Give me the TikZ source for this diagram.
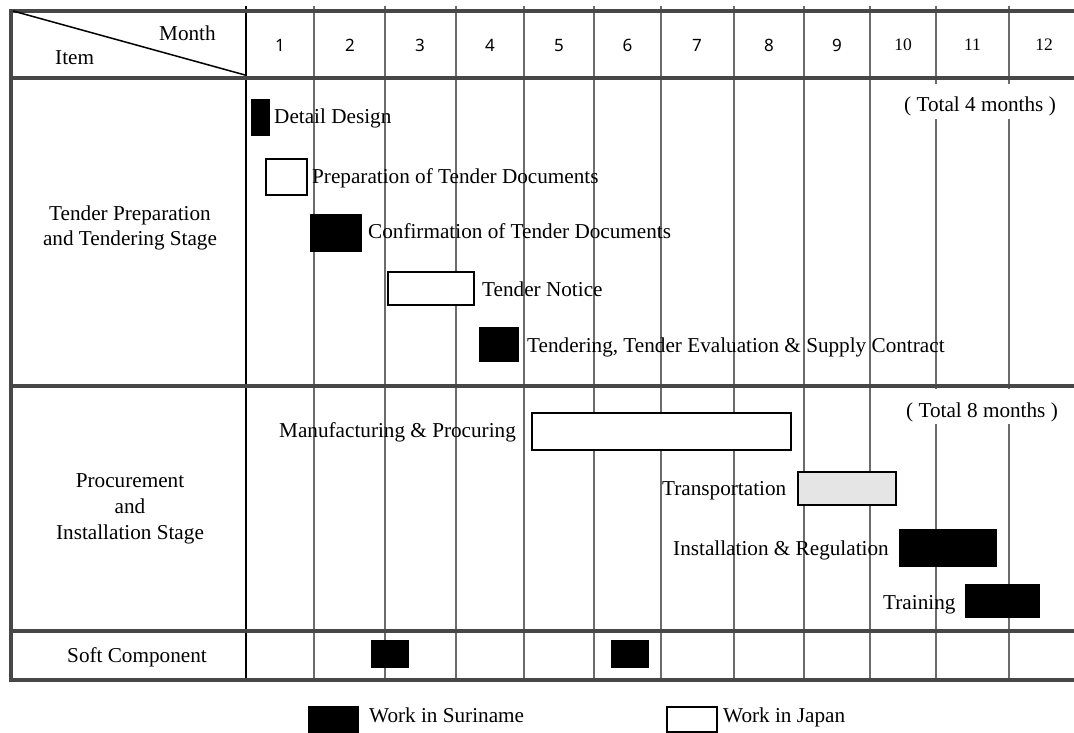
\documentclass[tikz,border=0pt]{standalone}
\usepackage{fontspec}
\setmainfont{Liberation Serif}
\newfontfamily\digitfont{Noto Sans}
\begin{document}
\begin{tikzpicture}[x=1pt,y=-1pt,
  txt/.style={inner sep=0pt, font=\fontsize{21.2}{25}\selectfont},
  lbl/.style={txt, anchor=base west},
  stage/.style={txt, anchor=base},
  mnum/.style={inner sep=0pt, anchor=base, font=\digitfont\fontsize{17}{20}\selectfont},
  mnumserif/.style={inner sep=0pt, anchor=base, font=\fontsize{17.5}{20}\selectfont},
  frameline/.style={line width=3.5pt, draw=black!72},
  monthline/.style={line width=2pt, draw=black!58},
  workjp/.style={fill=white, draw=black, line width=2pt},
  worksr/.style={fill=black},
  transit/.style={fill=black!10, draw=black, line width=2pt},
  total/.style={txt, anchor=base, fill=white, inner xsep=4pt, inner ysep=7pt,
                text height=21pt, text depth=0pt},
]
\useasboundingbox[fill=white] (0,0) rectangle (1074,733);

% month grid lines
\foreach \x in {314,385,456,524,594,661,734,804,870,936,1009}
  \draw[monthline] (\x,6) -- (\x,680);
% item column divider
\draw[line width=2pt] (246,6) -- (246,680);

% outer frame and stage separators
\draw[frameline] (11,9.5) -- (11,681.7);
\foreach \y in {11,78,386,631,680}
  \draw[frameline] (9.3,\y) -- (1074,\y);

% header cell
\draw[line width=1.5pt] (13,11) -- (245,75);
\node[lbl] (hmonth) at (159,41) {Month};
\node[lbl] (hitem) at (55,65) {Item};

% month numbers
\node[mnum] (m1) at (280,52) {1};
\node[mnum] (m2) at (350,52) {2};
\node[mnum] (m3) at (420,52) {3};
\node[mnum] (m4) at (490,52) {4};
\node[mnum] (m5) at (559,52) {5};
\node[mnum] (m6) at (627.5,52) {6};
\node[mnum] (m7) at (697,52) {7};
\node[mnum] (m8) at (769,52) {8};
\node[mnum] (m9) at (837,52) {9};
\node[mnumserif] (m10) at (903,51) {10};
\node[mnumserif] (m11) at (972.5,51) {11};
\node[mnumserif] (m12) at (1044,51) {12};

% stage labels
\node[stage] (st1a) at (130,220) {Tender Preparation};
\node[stage] (st1b) at (130,245) {and Tendering Stage};
\node[stage] (st2a) at (130,487) {Procurement};
\node[stage] (st2b) at (130,513) {and};
\node[stage] (st2c) at (130,539) {Installation Stage};
\node[stage] (st3) at (137,662) {Soft Component};

% tender preparation and tendering stage
\fill[worksr] (251,99) rectangle (270,136);
\node[lbl] (t1) at (274,124) {Detail Design};
\draw[workjp] (266,159) rectangle (307,195);
\node[lbl] (t2) at (312,183) {Preparation of Tender Documents};
\fill[worksr] (310,214) rectangle (362,252);
\node[lbl] (t3) at (368,238) {Confirmation of Tender Documents};
\draw[workjp] (388,272) rectangle (474,305);
\node[lbl] (t4) at (482,296) {Tender Notice};
\fill[worksr] (479,327) rectangle (519,362);
\node[lbl] (t5) at (527,352) {Tendering, Tender Evaluation \& Supply Contract};
\node[total] (tot1) at (980,112) {( Total 4 months )};

% procurement and installation stage
\draw[workjp] (532,413) rectangle (791,450);
\node[lbl] (p1) at (279,437) {Manufacturing \& Procuring};
\draw[transit] (798,472) rectangle (896,505);
\node[lbl] (p2) at (662,495) {Transportation};
\fill[worksr] (899,529) rectangle (997,567);
\node[lbl] (p3) at (673,555) {Installation \& Regulation};
\fill[worksr] (965,584) rectangle (1040,618);
\node[lbl] (p4) at (883,609) {Training};
\node[total] (tot2) at (982,417) {( Total 8 months )};

% soft component
\fill[worksr] (371,640) rectangle (409,668);
\fill[worksr] (611,640) rectangle (649,668);

% legend
\fill[worksr] (308,706) rectangle (359,733);
\node[lbl] (lg1) at (369,722) {Work in Suriname};
\draw[workjp] (667,707) rectangle (717,732);
\node[lbl] (lg2) at (723,722) {Work in Japan};
\end{tikzpicture}
\end{document}
